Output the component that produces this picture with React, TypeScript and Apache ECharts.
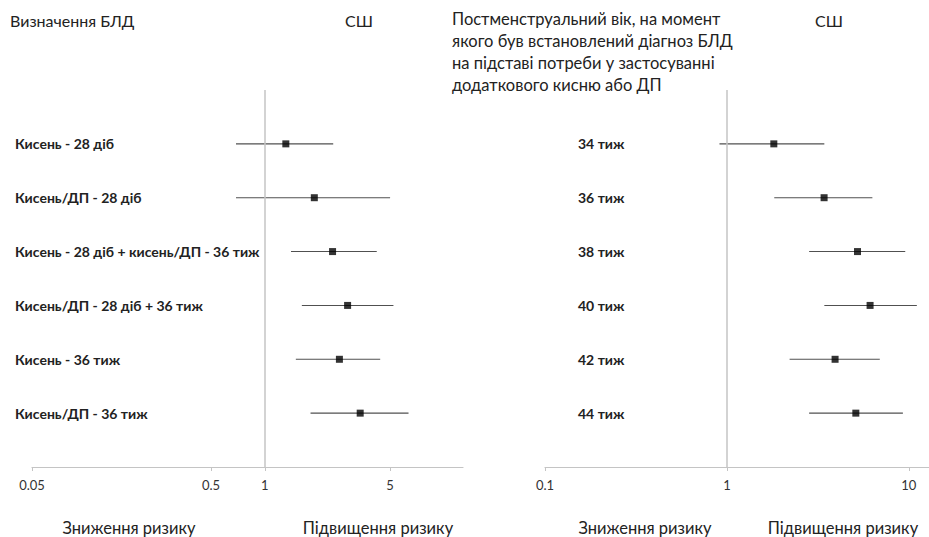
import React, { useEffect, useRef } from 'react';
import * as echarts from 'echarts';

const leftTitle = 'Визначення БЛД';
const rightTitleLines = [
  'Постменструальний вік, на момент',
  'якого був встановлений діагноз БЛД',
  'на підставі потреби у застосуванні',
  'додаткового кисню або ДП',
];
const colHeader = 'СШ';
const leftCategories = [
  'Кисень - 28 діб',
  'Кисень/ДП - 28 діб',
  'Кисень - 28 діб + кисень/ДП - 36 тиж',
  'Кисень/ДП - 28 діб + 36 тиж',
  'Кисень - 36 тиж',
  'Кисень/ДП - 36 тиж',
];
const leftOR = [1.31, 1.89, 2.39, 2.9, 2.61, 3.41];
const leftLower = [0.69, 0.69, 1.4, 1.61, 1.49, 1.8];
const leftUpper = [2.41, 5.01, 4.22, 5.23, 4.41, 6.35];

const rightCategories = ['34 тиж', '36 тиж', '38 тиж', '40 тиж', '42 тиж', '44 тиж'];
const rightOR = [1.81, 3.42, 5.22, 6.12, 3.93, 5.11];
const rightLower = [0.91, 1.82, 2.83, 3.43, 2.21, 2.83];
const rightUpper = [3.43, 6.3, 9.55, 11.06, 6.92, 9.27];

const leftTicks = [0.05, 0.5, 1, 5];
const rightTicks = [0.1, 1, 10];
const captions = ['Зниження ризику', 'Підвищення ризику'];

const FONT = 'Lato, "Noto Sans", sans-serif';

function buildOption() {
  const n = leftCategories.length;
  const rowY = (i: number) => n - i;

  const ciSeries = (idx: number, lo: number[], hi: number[], or: number[]) => ({
    type: 'custom',
    xAxisIndex: idx,
    yAxisIndex: idx,
    silent: true,
    data: lo.map((l, i) => [l, hi[i], or[i], rowY(i)]),
    encode: { x: [0, 1], y: 3 },
    renderItem: (params: any, api: any) => {
      const a = api.coord([api.value(0), api.value(3)]);
      const b = api.coord([api.value(1), api.value(3)]);
      return {
        type: 'line',
        shape: { x1: a[0], y1: a[1], x2: b[0], y2: b[1] },
        style: { stroke: '#505050', lineWidth: 1.1 },
      };
    },
  });

  const pointSeries = (idx: number, or: number[]) => ({
    type: 'scatter',
    xAxisIndex: idx,
    yAxisIndex: idx,
    silent: true,
    symbol: 'rect',
    symbolSize: 7,
    itemStyle: { color: '#000' },
    data: or.map((v, i) => [v, rowY(i)]),
    markLine: {
      silent: true,
      symbol: 'none',
      label: { show: false },
      lineStyle: { color: '#c4c4c4', width: 1.5, type: 'solid' },
      data: [{ xAxis: 1 }],
    },
    z: 5,
  });

  const xAxis = (idx: number, min: number, max: number, ticks: number[]) => ({
    type: 'log',
    gridIndex: idx,
    logBase: 10,
    min,
    max,
    axisLine: { show: true, lineStyle: { color: '#c4c4c4', width: 1.2 } },
    axisTick: { show: true, customValues: ticks, length: 4, lineStyle: { color: '#c4c4c4' } },
    axisLabel: {
      customValues: ticks,
      color: '#333',
      fontFamily: FONT,
      fontSize: 13,
      margin: 11,
      formatter: (v: number) => String(+v.toPrecision(3)),
    },
    splitLine: { show: false },
    minorTick: { show: false },
  });

  const yAxis = (idx: number, cats: string[], inside: boolean, margin: number) => ({
    type: 'value',
    gridIndex: idx,
    min: 0,
    max: n + 1,
    interval: 1,
    axisLine: { show: false },
    axisTick: { show: false },
    splitLine: { show: false },
    axisLabel: {
      inside,
      margin,
      align: 'left',
      color: '#222',
      fontFamily: FONT,
      fontSize: 14,
      fontWeight: 'bold',
      formatter: (v: number) => (v >= 1 && v <= n ? cats[n - v] : ''),
    },
  });

  const text = (x: number, y: number, t: string, opts: any = {}) => ({
    type: 'text',
    x,
    y,
    style: {
      text: t,
      fill: '#222',
      font: `${opts.size || 16}px ${FONT}`,
      textAlign: opts.align || 'left',
      textVerticalAlign: 'middle',
    },
  });

  return {
    animation: false,
    backgroundColor: '#fff',
    grid: [
      { left: 32, top: 90, width: 431, height: 377 },
      { left: 545, top: 90, width: 384, height: 377 },
    ],
    xAxis: [xAxis(0, 0.05, 12.8, leftTicks), xAxis(1, 0.1, 12.9, rightTicks)],
    yAxis: [yAxis(0, leftCategories, false, 17), yAxis(1, rightCategories, true, 33)],
    series: [
      ciSeries(0, leftLower, leftUpper, leftOR),
      pointSeries(0, leftOR),
      ciSeries(1, rightLower, rightUpper, rightOR),
      pointSeries(1, rightOR),
    ],
    graphic: [
      text(10, 20, leftTitle),
      text(359, 20, colHeader, { align: 'center' }),
      text(829, 20, colHeader, { align: 'center' }),
      ...rightTitleLines.map((l, i) => text(452, 19 + i * 22, l, { size: 16.5 })),
      text(129, 528, captions[0], { align: 'center', size: 16.5 }),
      text(378, 528, captions[1], { align: 'center', size: 16.5 }),
      text(645, 528, captions[0], { align: 'center', size: 16.5 }),
      text(843, 528, captions[1], { align: 'center', size: 16.5 }),
    ],
  };
}

export default function App() {
  const ref = useRef<HTMLDivElement>(null);
  useEffect(() => {
    if (!ref.current) return;
    const chart = echarts.init(ref.current, null, { renderer: 'svg' });
    chart.setOption(buildOption() as any);
    return () => chart.dispose();
  }, []);
  return (
    <div
      ref={ref}
      style={{ position: 'absolute', left: 0, top: 0, width: 929, height: 537, background: '#fff' }}
    />
  );
}
